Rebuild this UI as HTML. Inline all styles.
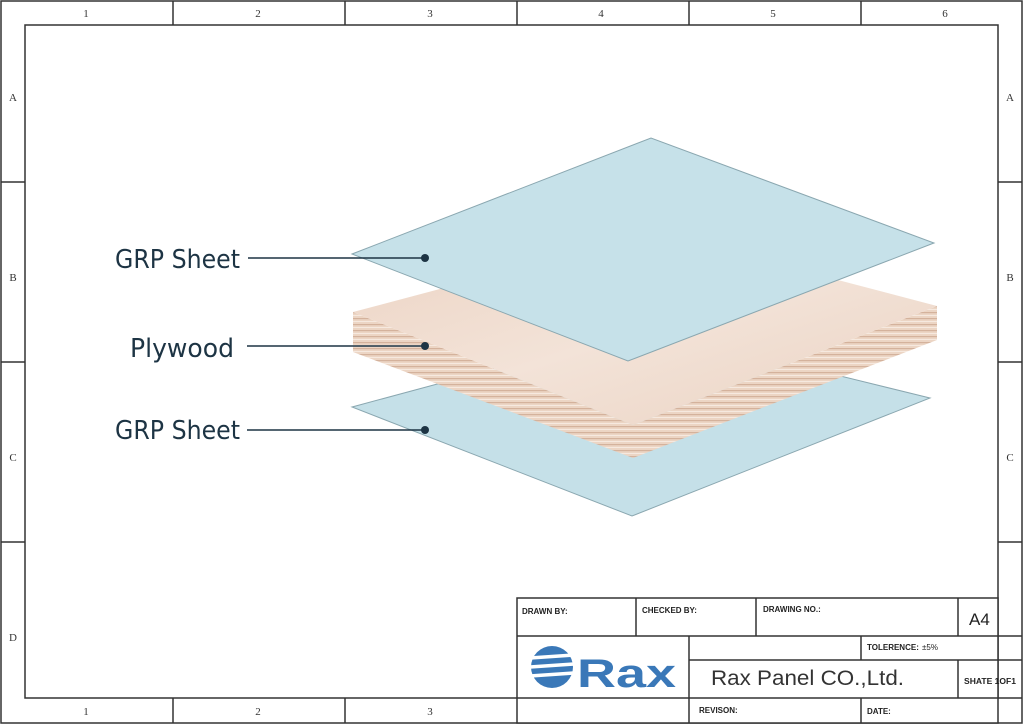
<!DOCTYPE html>
<html><head><meta charset="utf-8"><style>
html,body{margin:0;padding:0;background:#fff;}
svg{display:block;}
text{font-family:"Liberation Sans",sans-serif;}
</style></head><body>
<svg width="1024" height="725" viewBox="0 0 1024 725" xmlns="http://www.w3.org/2000/svg">
<defs>
<linearGradient id="wood" x1="0" y1="0" x2="1" y2="1">
<stop offset="0" stop-color="#ecd3c3"/><stop offset="0.5" stop-color="#f3e3d8"/><stop offset="1" stop-color="#ead2c2"/>
</linearGradient>
<pattern id="ply" width="10" height="6" patternUnits="userSpaceOnUse">
<rect width="10" height="6" fill="#ecd5c4"/><rect y="0" width="10" height="1.2" fill="#d4b29c"/><rect y="3" width="10" height="1" fill="#f6e9df"/>
</pattern>
</defs>
<rect width="1024" height="725" fill="#fff"/>
<g fill="none" stroke="#333" stroke-width="1.5">
<rect x="1" y="1" width="1021" height="722"/>
<rect x="25" y="25" width="973" height="673"/>
<line x1="173" y1="1" x2="173" y2="25"/><line x1="345" y1="1" x2="345" y2="25"/><line x1="517" y1="1" x2="517" y2="25"/><line x1="689" y1="1" x2="689" y2="25"/><line x1="861" y1="1" x2="861" y2="25"/>
<line x1="173" y1="698" x2="173" y2="723"/><line x1="345" y1="698" x2="345" y2="723"/>
<line x1="1" y1="182" x2="25" y2="182"/><line x1="1" y1="362" x2="25" y2="362"/><line x1="1" y1="542" x2="25" y2="542"/>
<line x1="998" y1="182" x2="1022" y2="182"/><line x1="998" y1="362" x2="1022" y2="362"/><line x1="998" y1="542" x2="1022" y2="542"/>
</g>
<g font-family="Liberation Serif,serif" font-size="11" fill="#333" text-anchor="middle">
<text x="86" y="17" style="font-family:'Liberation Serif',serif">1</text><text x="258" y="17" style="font-family:'Liberation Serif',serif">2</text><text x="430" y="17" style="font-family:'Liberation Serif',serif">3</text><text x="601" y="17" style="font-family:'Liberation Serif',serif">4</text><text x="773" y="17" style="font-family:'Liberation Serif',serif">5</text><text x="945" y="17" style="font-family:'Liberation Serif',serif">6</text>
<text x="86" y="715" style="font-family:'Liberation Serif',serif">1</text><text x="258" y="715" style="font-family:'Liberation Serif',serif">2</text><text x="430" y="715" style="font-family:'Liberation Serif',serif">3</text>
<text x="13" y="101" style="font-family:'Liberation Serif',serif">A</text><text x="13" y="281" style="font-family:'Liberation Serif',serif">B</text><text x="13" y="461" style="font-family:'Liberation Serif',serif">C</text><text x="13" y="641" style="font-family:'Liberation Serif',serif">D</text>
<text x="1010" y="101" style="font-family:'Liberation Serif',serif">A</text><text x="1010" y="281" style="font-family:'Liberation Serif',serif">B</text><text x="1010" y="461" style="font-family:'Liberation Serif',serif">C</text>
</g>
<polygon points="352,407 645,328 930,398 632,516" fill="#c5e0e8" stroke="#8aa7b0" stroke-width="1"/>
<polygon points="353,312 353,352 633,458 937,340 937,306 633,425" fill="url(#ply)"/>
<polygon points="353,312 655,232 937,306 633,425" fill="url(#wood)"/>
<polygon points="352,254 651,138 934,243 628,361" fill="#c6e1e9" stroke="#8aa7b0" stroke-width="1"/>
<g fill="#1d3444" style="font-family:'DejaVu Sans',sans-serif">
<text x="115" y="268" font-size="26" style="font-family:'DejaVu Sans',sans-serif" textLength="125" lengthAdjust="spacingAndGlyphs">GRP Sheet</text>
<text x="130" y="357" font-size="26" style="font-family:'DejaVu Sans',sans-serif" textLength="104" lengthAdjust="spacingAndGlyphs">Plywood</text>
<text x="115" y="439" font-size="26" style="font-family:'DejaVu Sans',sans-serif" textLength="125" lengthAdjust="spacingAndGlyphs">GRP Sheet</text>
</g>
<g stroke="#1d3444" stroke-width="1.5">
<line x1="248" y1="258" x2="425" y2="258"/><line x1="247" y1="346" x2="425" y2="346"/><line x1="247" y1="430" x2="425" y2="430"/>
</g>
<g fill="#1d3444"><circle cx="425" cy="258" r="4"/><circle cx="425" cy="346" r="4"/><circle cx="425" cy="430" r="4"/></g>
<rect x="517" y="598" width="481" height="125" fill="#fff"/>
<g fill="none" stroke="#333" stroke-width="1.5">
<rect x="517" y="598" width="481" height="125"/>
<line x1="517" y1="636" x2="1022" y2="636"/>
<line x1="689" y1="660" x2="1022" y2="660"/>
<line x1="517" y1="698" x2="1022" y2="698"/>
<line x1="636" y1="598" x2="636" y2="636"/><line x1="756" y1="598" x2="756" y2="636"/><line x1="958" y1="598" x2="958" y2="636"/>
<line x1="689" y1="636" x2="689" y2="723"/>
<line x1="861" y1="636" x2="861" y2="660"/><line x1="958" y1="660" x2="958" y2="698"/><line x1="861" y1="698" x2="861" y2="723"/>
</g>
<g font-size="8" font-weight="bold" fill="#222">
<text x="522" y="614">DRAWN BY:</text><text x="642" y="613">CHECKED BY:</text><text x="763" y="612">DRAWING NO.:</text>
<text x="867" y="650">TOLERENCE:</text><text x="922" y="650" font-weight="normal">±5%</text>
<text x="964" y="684" textLength="52" lengthAdjust="spacingAndGlyphs">SHATE 1OF1</text>
<text x="699" y="713">REVISON:</text><text x="867" y="714">DATE:</text>
</g>
<text x="969" y="625" font-size="17" fill="#222">A4</text>
<text x="711" y="685" font-size="21" fill="#333" textLength="193" lengthAdjust="spacingAndGlyphs">Rax Panel CO.,Ltd.</text>
<circle cx="552" cy="667" r="21" fill="#3a78b8"/>
<g stroke="#fff" stroke-width="3.5"><line x1="530" y1="658" x2="574" y2="655"/><line x1="530" y1="667" x2="574" y2="664"/><line x1="530" y1="676" x2="574" y2="673"/></g>
<text x="577" y="687" font-size="40" font-weight="bold" fill="#3a78b8" textLength="99" lengthAdjust="spacingAndGlyphs">Rax</text>
</svg>
</body></html>
